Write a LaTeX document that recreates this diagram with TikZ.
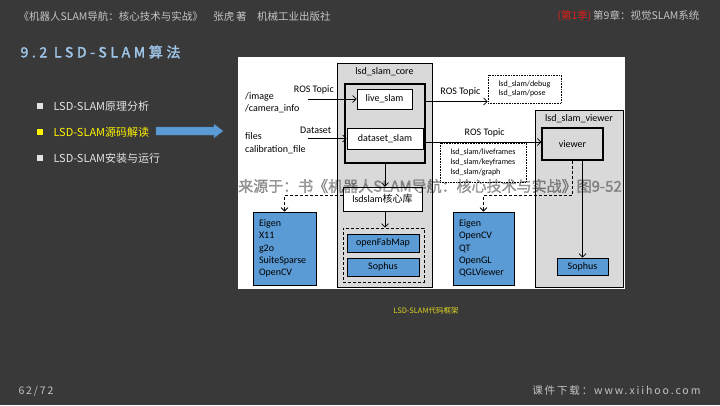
\documentclass[tikz,border=0pt]{standalone}
\usepackage{fontspec}
\setmainfont{Carlito}
\newfontfamily\cjk[AutoFakeBold=2]{Noto Sans CJK SC}
\newfontfamily\cjkwide[LetterSpace=18]{Noto Sans CJK SC}
\newfontfamily\titlefont[LetterSpace=26,AutoFakeBold=2.5]{Noto Sans CJK SC}
\usetikzlibrary{arrows.meta,positioning}
\definecolor{slidebg}{HTML}{393939}
\definecolor{boxgrey}{HTML}{D9D9D9}
\definecolor{libblue}{HTML}{5B9BD5}
\definecolor{headgrey}{HTML}{C4C4C4}
\definecolor{itemgrey}{HTML}{E4E4E4}
\definecolor{titleblue}{HTML}{9DC3E6}
\definecolor{seasonred}{HTML}{E0201C}
\tikzset{
  pkg/.style={draw,fill=boxgrey,line width=0.6pt},
  frame/.style={draw,line width=1.2pt},
  unit/.style={draw,fill=white,line width=0.8pt,inner sep=0pt},
  lib/.style={draw,fill=libblue,line width=0.8pt,inner sep=0pt},
  topics/.style={draw,densely dotted,line width=0.6pt,fill=white,align=left,
    font=\fontsize{8}{9.7}\selectfont},
  flow/.style={->,line width=0.7pt},
  dep/.style={->,line width=0.8pt,dash pattern=on 3pt off 2pt},
}
\begin{document}
\begin{tikzpicture}[x=1pt,y=-1pt,font=\fontsize{10}{12.3}\selectfont,
  >={Straight Barb[length=3.5pt,width=7pt]}]
% slide and white panel
\fill[slidebg] (0,0) rectangle (720,405);
\fill[white] (238,57) rectangle (625,289);
% header and footer
\node[anchor=west,text=headgrey,font=\cjk\fontsize{10.5}{12}\selectfont] (book) at (15,16)
  {《机器人SLAM导航：核心技术与实战》\quad 张虎\,著\quad 机械工业出版社};
\node[anchor=east,text=headgrey,font=\cjk\fontsize{10.5}{12}\selectfont] (chapter) at (703,16)
  {\textcolor{seasonred}{(第1季)}\,第9章：视觉SLAM系统};
\node[anchor=west,text=titleblue,font=\titlefont\bfseries\fontsize{14}{16}\selectfont] (heading) at (17,52)
  {9.2 LSD-SLAM算法};
\node[anchor=west,text=headgrey,font=\cjkwide\fontsize{10.5}{12}\selectfont] (pageno) at (15,391) {62/72};
\node[anchor=east,text=headgrey,font=\cjkwide\fontsize{10.5}{12}\selectfont] (site) at (704,391)
  {课件下载：www.xiihoo.com};
% bullet list
\foreach \y/\txt/\col in {106/LSD-SLAM原理分析/itemgrey,132/LSD-SLAM源码解读/yellow,158/LSD-SLAM安装与运行/itemgrey}{
  \node[fill=\col,minimum size=5.5,inner sep=0pt] (sq\y) at (40,\y) {};
  \node[anchor=west,text=\col,font=\cjk\fontsize{11}{13}\selectfont] (item\y) at (50,\y) {\txt};
}
\coordinate (pointer) at (156,131);
\fill[libblue,draw=libblue!80!black,line width=0.3pt] (pointer) ++(0,-4) -- ++(58,0) -- ++(0,-3)
  -- ++(9,7) -- ++(-9,7) -- ++(0,-3) -- ++(-58,0) -- cycle;
% lsd_slam_core
\node[pkg,minimum width=95,minimum height=224] (core) at (384.5,175) {};
\node[below=1pt of core.north] (coretitle) {lsd\_slam\_core};
\node[frame,minimum width=80,minimum height=79] (inner) at (385,123.5) {};
\node[unit,minimum width=55,minimum height=20] (live) at (384.5,99) {live\_slam};
\node[unit,minimum width=76,minimum height=21] (dataset) at (385,138.5) {dataset\_slam};
\node[unit,minimum width=79,minimum height=24] (kernel) at (382.5,199) {lsdslam{\cjk 核心库}};
\node[draw,line width=0.8pt,dash pattern=on 3pt off 2pt,minimum width=81,minimum height=54] (thirdparty) at (383.5,255) {};
\node[lib,minimum width=72,minimum height=18] (fabmap) at (383,243) {openFabMap};
\node[lib,minimum width=72,minimum height=18] (sophuscore) at (383,267) {Sophus};
% lsd_slam_viewer
\node[pkg,minimum width=88,minimum height=177] (viewerpkg) at (579,198.5) {};
\node[below=1pt of viewerpkg.north] (viewertitle) {lsd\_slam\_viewer};
\node[frame,fill=boxgrey,minimum width=61,minimum height=32] (viewer) at (572.5,144) {viewer};
\node[lib,minimum width=51,minimum height=17] (sophusviewer) at (582.5,266.5) {Sophus};
% dependencies
\node[lib,inner xsep=6pt,text width=51,align=left,minimum height=73] (coredeps) at (284.5,248.5)
  {Eigen\\X11\\g2o\\SuiteSparse\\OpenCV};
\node[lib,inner xsep=6pt,text width=49,align=left,minimum height=73] (viewerdeps) at (483.5,248.5)
  {Eigen\\OpenCV\\QT\\OpenGL\\QGLViewer};
% topics
\node[topics,minimum width=73,minimum height=28] (debug) at (524.5,89) {lsd\_slam/debug\\lsd\_slam/pose};
\node[topics,minimum width=86,minimum height=39] (frames) at (483,162.5)
  {lsd\_slam/liveframes\\lsd\_slam/keyframes\\lsd\_slam/graph};
% inputs
\node[anchor=west,align=left,inner sep=0pt,font=\fontsize{10}{11.6}\selectfont] (camsrc) at (245,102.5)
  {/image\\/camera\_info};
\node[anchor=west,align=left,inner sep=0pt,font=\fontsize{10}{12.6}\selectfont] (filesrc) at (245,143)
  {files\\calibration\_file};
\coordinate (camtail) at (308,99);
\coordinate (filetail) at (308,138.5);
\coordinate (jog) at (0,195);
% connectors
\draw[flow] (camtail) -- node[pos=0.12,above=1pt] {ROS Topic} (live.west);
\draw[flow] (filetail) -- node[pos=0.2,above=1pt] {Dataset} (dataset.west);
\draw[flow] ([yshift=-2.5pt]live.east -| inner.east) -- node[pos=0.56,above=2pt] {ROS Topic}
  ([yshift=-2.5pt]live.east -| debug.west);
\draw[flow] ([yshift=-3.5pt]dataset.east -| inner.east) -- node[pos=0.51,above=1pt] {ROS Topic}
  ([yshift=-3.5pt]dataset.east -| viewer.west);
\draw[flow] (inner.south) -- (inner.south |- kernel.north);
\draw[flow] (inner.south |- kernel.south) -- (inner.south |- thirdparty.north);
\draw[dep] ([yshift=4pt]kernel.west) -| (coredeps.north);
\draw[dep] (viewer.south) -- (viewer.south |- jog) -| (viewerdeps.north);
\draw[flow] (viewer.south -| sophusviewer.north) -- (sophusviewer.north);
% caption and source note
\node[text=yellow!85!black,font=\cjk\fontsize{7.5}{9}\selectfont] (caption) at (426,311) {LSD-SLAM代码框架};
\node[text=black,text opacity=0.33,font=\cjk\bfseries\fontsize{15}{17}\selectfont] (source) at (430,186)
  {来源于：书《机器人SLAM导航：核心技术与实战》图9-52};
\end{tikzpicture}
\end{document}
